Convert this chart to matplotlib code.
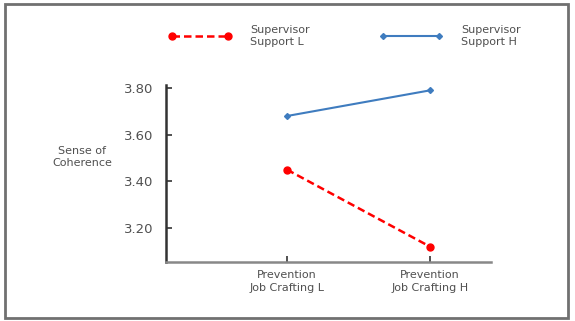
import matplotlib
matplotlib.use("Agg")
import matplotlib.pyplot as plt
from matplotlib.patches import Rectangle

categories = ["Prevention\nJob Crafting L", "Prevention\nJob Crafting H"]
support_low = [3.45, 3.12]
support_high = [3.68, 3.79]
series_labels = ["Supervisor\nSupport L", "Supervisor\nSupport H"]
yticks = [3.20, 3.40, 3.60, 3.80]
ytick_labels = ["3.20", "3.40", "3.60", "3.80"]

plt.rcParams['font.family'] = ['DejaVu Sans']
txt = '#505050'

fig = plt.figure(figsize=(5.75, 3.21), dpi=100)
ax = fig.add_axes([0.2887, 0.1838, 0.5652, 0.5514])

x = list(range(len(categories)))
l1, = ax.plot(x, support_low, color='#ff0000', linestyle=(0, (3, 1.6)), linewidth=1.8,
              marker='o', markersize=5, label=series_labels[0])
l2, = ax.plot(x, support_high, color='#3f7cbf', linestyle='-', linewidth=1.5,
              marker='D', markersize=3, label=series_labels[1])

ax.set_xlim(-0.846, 1.427)
ax.set_ylim(3.054, 3.813)
ax.set_xticks(x)
ax.set_xticklabels(categories, fontsize=8, color=txt, linespacing=1.3)
ax.set_yticks(yticks)
ax.set_yticklabels(ytick_labels, fontsize=9.5, color=txt)
ax.tick_params(axis='both', direction='in', length=4, width=1.2, color='#333333', pad=6)
ax.tick_params(axis='y', pad=9)
for s in ['top', 'right']:
    ax.spines[s].set_visible(False)
ax.spines['left'].set_color('#333333')
ax.spines['left'].set_linewidth(1.8)
ax.spines['bottom'].set_color('#888888')
ax.spines['bottom'].set_linewidth(1.8)

fig.text(82/575, 1-157/321, "Sense of\nCoherence", fontsize=8, color=txt,
         ha='center', va='center', linespacing=1.25)

for handle, lx in [(l1, 168.7), (l2, 379.7)]:
    fig.legend(handles=[handle], loc='center left', bbox_to_anchor=(lx/575, 1-36/321),
               frameon=False, fontsize=8, handlelength=5.65, numpoints=2,
               handletextpad=1.68, borderpad=0, borderaxespad=0, labelcolor=txt)

fig.add_artist(Rectangle((5/575, 3/321), 563/575, 314/321, transform=fig.transFigure,
                         fill=False, edgecolor='#707070', linewidth=2))

fig.savefig("out.png", dpi=100)
